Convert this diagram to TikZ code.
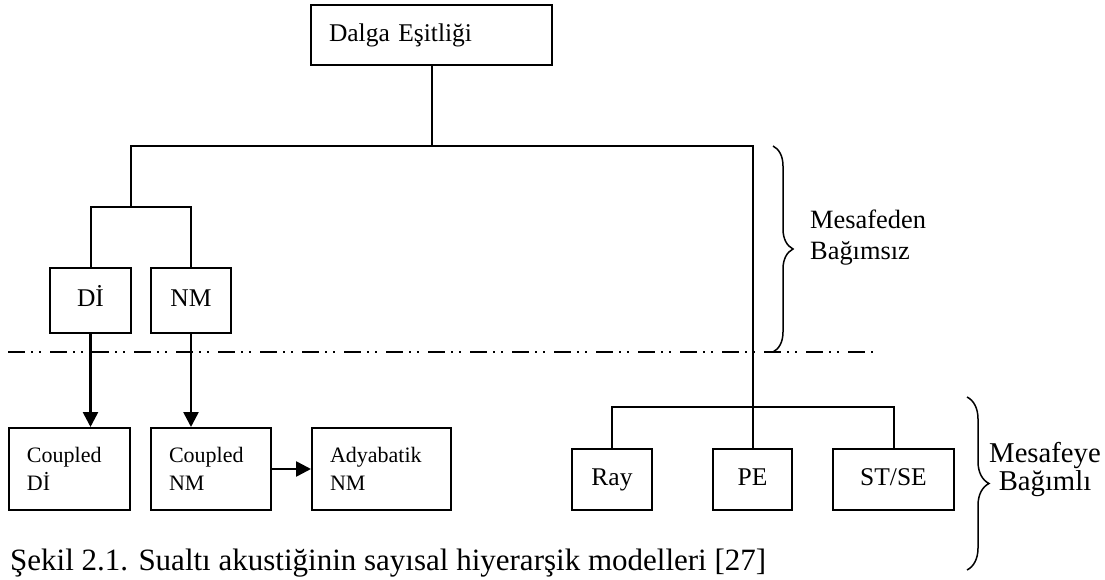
\documentclass[tikz,border=0pt]{standalone}
\usepackage{fontspec}
\setmainfont{Liberation Serif}
\usepackage{tikz}
\usetikzlibrary{arrows.meta,positioning,decorations.pathreplacing}
\newcommand{\TopBarY}{146}
\newcommand{\LowBarY}{407}
\newcommand{\CutY}{352}
\newcommand{\BoxText}{\fontsize{25.5}{30}\selectfont}
\newcommand{\SmallText}{\fontsize{22}{28}\selectfont}
\begin{document}
\begin{tikzpicture}[x=1pt,y=-1pt,
 box/.style={draw,line width=2pt,inner sep=0pt,font=\BoxText,text height=18pt,text depth=6pt},
 boxleft/.style={draw,line width=2pt,inner ysep=0pt,inner xsep=18pt,align=left},
 link/.style={line width=2pt},
 arr/.style={line width=2.6pt,-{Triangle[length=15pt,width=15pt]}},
 cut/.style={line width=2pt,dash pattern=on 17pt off 6pt on 2pt off 6pt on 2pt off 9pt},
 curly/.style={line width=1.5pt,decorate,decoration={brace,amplitude=20pt}}]
\useasboundingbox (0,0) rectangle (1105,580);
\node[boxleft,font=\BoxText,text width=205pt,minimum height=60pt] (dalga) at (431.5,35) {Dalga Eşitliği};
\node[box,minimum width=81pt,minimum height=65pt] (di) at (90.5,300.5) {Dİ};
\node[box,minimum width=80pt,minimum height=65pt] (nm) at (191,300.5) {NM};
\node[boxleft,font=\SmallText,text width=85pt,minimum height=82pt] (cdi) at (69.5,469) {Coupled\\Dİ};
\node[boxleft,font=\SmallText,text width=84pt,minimum height=82pt] (cnm) at (211,469) {Coupled\\NM};
\node[boxleft,font=\SmallText,text width=103pt,minimum height=82pt] (ady) at (381.5,469) {Adyabatik\\NM};
\node[box,minimum width=80pt,minimum height=61pt] (ray) at (612,479.5) {Ray};
\node[box,minimum width=79pt,minimum height=61pt] (pe) at (752.5,479.5) {PE};
\node[box,minimum width=121pt,minimum height=61pt] (st) at (893.5,479.5) {ST/SE};
\coordinate (split) at (dalga.south |- 0,\TopBarY);
\coordinate (jL) at (131,207);
\coordinate (jR) at (pe.north |- 0,\LowBarY);
\draw[link] (dalga.south) -- (split);
\draw[link] (jL) |- (split) -| (jR) -- (pe.north);
\draw[link] (di.north) |- (jL) -| (nm.north);
\draw[link] (ray.north) |- (jR) -| (st.north);
\draw[arr] (di.south) -- (di.south |- cdi.north);
\draw[arr] (nm.south) -- (nm.south |- cnm.north);
\draw[arr] (cnm.east) -- (ady.west);
\draw[cut] (8,\CutY) -- (873,\CutY);
\draw[curly] (773,\TopBarY) -- (773,\CutY);
\draw[curly,decoration={amplitude=22pt}] (967,397) -- (967,570);
\node[anchor=west,align=left,font=\fontsize{26.4}{31}\selectfont,inner sep=0pt] (near) at (810,237.4) {Mesafeden\\Bağımsız};
\node[align=center,font=\fontsize{28.7}{28}\selectfont,inner sep=0pt] (far) at (1045,469) {Mesafeye\\Bağımlı};
\node[anchor=base west,font=\fontsize{31}{36}\selectfont,inner sep=0pt] (caption) at (10,570) {Şekil 2.1. Sualtı akustiğinin sayısal hiyerarşik modelleri [27]};
\end{tikzpicture}
\end{document}
